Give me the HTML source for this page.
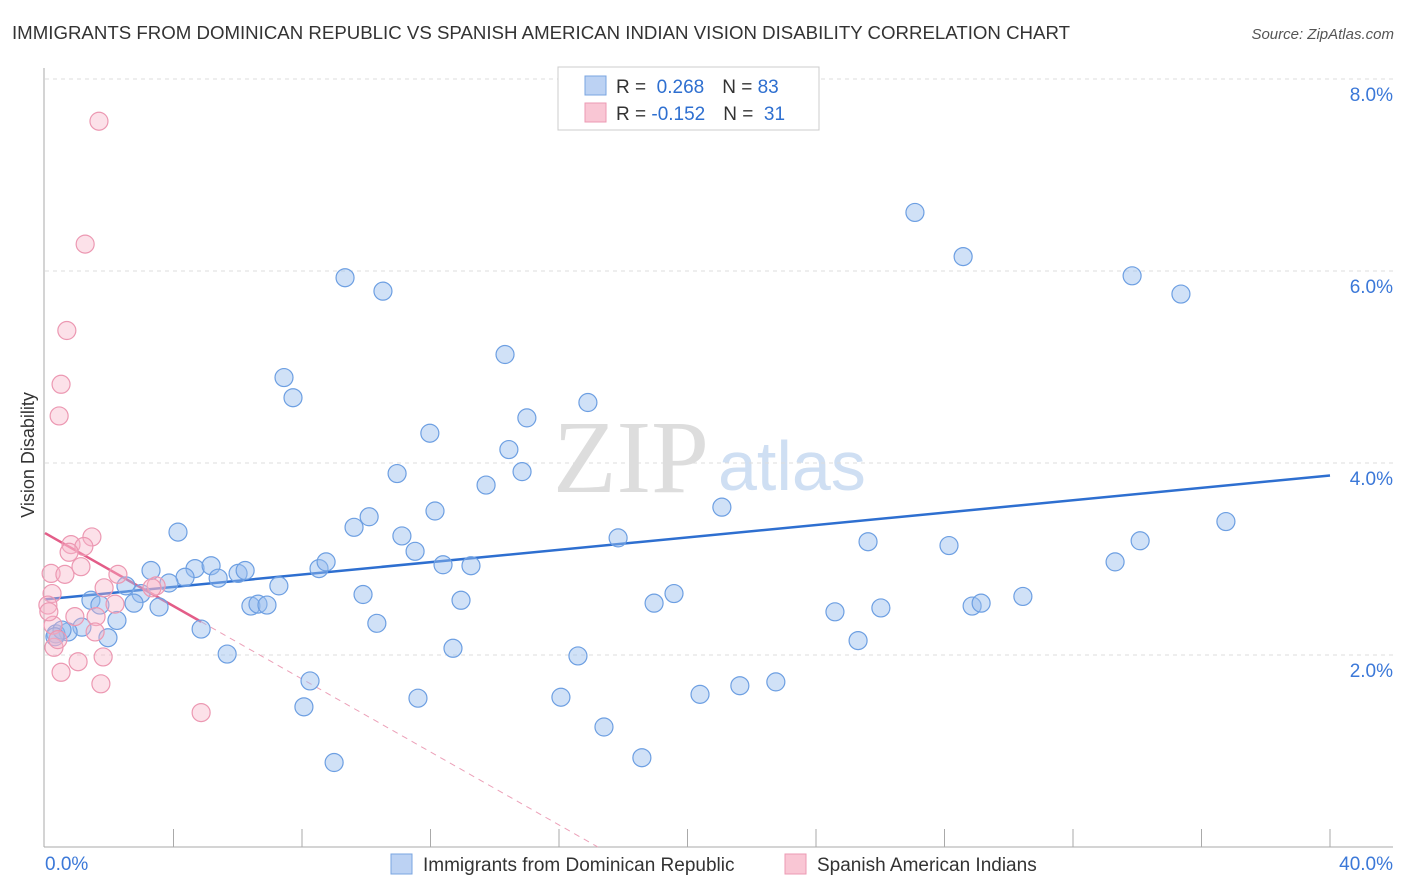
<!DOCTYPE html>
<html><head><meta charset="utf-8"><style>
body{margin:0;background:#fff;font-family:"Liberation Sans",sans-serif;}
#wrap{position:relative;width:1406px;height:892px;overflow:hidden;}
</style></head><body>
<div id="wrap">
<svg id="svg" width="1406" height="892" xmlns="http://www.w3.org/2000/svg" font-family="Liberation Sans, sans-serif">
<text x="12" y="39" font-size="18" fill="#333" textLength="1058" lengthAdjust="spacingAndGlyphs">IMMIGRANTS FROM DOMINICAN REPUBLIC VS SPANISH AMERICAN INDIAN VISION DISABILITY CORRELATION CHART</text>
<text x="1394" y="39" font-size="15" fill="#555" font-style="italic" text-anchor="end">Source: ZipAtlas.com</text>
<text x="553" y="492" font-size="104" font-family="Liberation Serif, serif" fill="#ddd">ZIP</text>
<text x="718" y="490" font-size="70" fill="#cfdff3">atlas</text>
<text transform="translate(34,455) rotate(-90)" font-size="18" fill="#333" text-anchor="middle">Vision Disability</text>
<g id="grid"></g><g id="axes"></g><g id="lines"></g><g id="pts"></g>
<g>
<rect x="558" y="67" width="261" height="63" fill="#fff" stroke="#ccc"/>
<rect x="585" y="76" width="21" height="19" fill="#bcd2f3" stroke="#7aa5e0"/>
<rect x="585" y="103" width="21" height="19" fill="#f9c6d4" stroke="#ec9ab3"/>
<text x="616" y="93" font-size="19" fill="#333">R = <tspan fill="#2e6fd0">&#160;0.268</tspan><tspan dx="18">N = </tspan><tspan fill="#2e6fd0">83</tspan></text>
<text x="616" y="120" font-size="19" fill="#333">R = <tspan fill="#2e6fd0">-0.152</tspan><tspan dx="18">N = </tspan><tspan fill="#2e6fd0">&#160;31</tspan></text>
</g>
<g>
<rect x="391" y="854" width="21" height="20" fill="#bcd2f3" stroke="#7aa5e0"/>
<text x="423" y="871" font-size="19" fill="#333">Immigrants from Dominican Republic</text>
<rect x="785" y="854" width="21" height="20" fill="#f9c6d4" stroke="#ec9ab3"/>
<text x="817" y="871" font-size="19" fill="#333">Spanish American Indians</text>
</g>
</svg>
</div>
<script>
const blueX=[27.08,28.58,33.84,35.36,9.34,10.52,14.32,7.44,7.72,15.00,16.90,11.98,14.44,14.85,10.96,13.73,4.14,10.09,9.62,12.14,11.11,11.52,12.39,13.26,8.53,8.75,21.07,17.84,25.62,28.14,34.09,36.76,33.31,3.30,4.67,5.17,6.01,6.23,4.36,3.86,5.39,7.28,2.52,2.99,1.43,1.71,2.77,3.55,6.41,6.63,6.91,9.90,12.95,19.58,18.96,24.59,26.02,28.86,29.14,30.44,2.24,1.15,0.72,0.34,0.53,1.96,4.86,10.33,25.31,12.70,5.67,16.59,8.25,8.06,11.61,16.06,20.39,21.63,22.75,17.40,18.58,9.00,0.31];
const blueY=[6.61,6.15,5.95,5.76,5.93,5.79,5.13,4.89,4.68,4.47,4.63,4.31,4.14,3.91,3.89,3.77,3.28,3.44,3.33,3.50,3.24,3.08,2.94,2.93,2.90,2.97,3.54,3.22,3.18,3.14,3.19,3.39,2.97,2.88,2.90,2.93,2.85,2.88,2.81,2.75,2.80,2.72,2.72,2.64,2.57,2.52,2.54,2.50,2.51,2.53,2.52,2.63,2.57,2.64,2.54,2.45,2.49,2.51,2.54,2.61,2.36,2.29,2.24,2.22,2.26,2.18,2.27,2.33,2.15,2.07,2.01,1.99,1.73,1.46,1.55,1.56,1.59,1.68,1.72,1.25,0.93,0.88,2.19];
const pinkX=[1.68,1.25,0.68,0.50,0.44,1.46,0.81,1.21,0.75,0.19,0.62,1.12,2.27,1.84,3.46,0.22,0.09,2.18,0.93,1.59,0.25,1.56,0.28,1.03,1.81,0.50,1.74,4.86,0.12,3.33,0.40];
const pinkY=[7.56,6.28,5.38,4.82,4.49,3.23,3.15,3.13,3.07,2.85,2.84,2.92,2.84,2.70,2.72,2.64,2.52,2.53,2.40,2.40,2.31,2.24,2.08,1.93,1.98,1.82,1.70,1.40,2.45,2.70,2.16];
const blueTrend=[2.58,3.87]; // y at x=0, x=40
const pinkTrend=[3.27,-0.19]; // intercept, slope
const yTicks=[2,4,6,8];
const yTickLabels=["2.0%","4.0%","6.0%","8.0%"];
const xTicks=[4,8,12,16,20,24,28,32,36,40];

const NS="http://www.w3.org/2000/svg";
const sx=v=>45+v*32.125, sy=v=>847-v*96;
function mk(tag,attrs,parent){const e=document.createElementNS(NS,tag);for(const k in attrs)e.setAttribute(k,attrs[k]);document.getElementById(parent).appendChild(e);return e;}
yTicks.forEach((t,i)=>{
 const l=mk('line',{x1:45,x2:1393,y1:sy(t),y2:sy(t),stroke:'#ddd','stroke-dasharray':'4,4'},'grid');
 
 
 const tx=mk('text',{x:1393,y:sy(t)+22,'font-size':19,fill:'#3b78d8','text-anchor':'end'},'grid');
 tx.textContent=yTickLabels[i];
 
 
});
let a=mk('line',{x1:44,x2:44,y1:68,y2:847,stroke:'#aaa'},'axes');


a=mk('line',{x1:44,x2:1393,y1:847,y2:847,stroke:'#aaa'},'axes');


xTicks.forEach(t=>{
 const l=mk('line',{x1:sx(t),x2:sx(t),y1:829,y2:847,stroke:'#aaa'},'axes');
 
 
});
let t0=mk('text',{x:45,y:870,'font-size':19,fill:'#3b78d8'},'axes');t0.textContent='0.0%';


let t1=mk('text',{x:1393,y:870,'font-size':19,fill:'#3b78d8','text-anchor':'end'},'axes');t1.textContent='40.0%';



blueX.forEach((x,i)=>{
 const c=mk('circle',{cx:sx(x),cy:sy(blueY[i]),r:9,fill:'rgba(150,188,238,0.45)',stroke:'#6d9fe2','stroke-width':1.2},'pts');
 
 
});
pinkX.forEach((x,i)=>{
 const c=mk('circle',{cx:sx(x),cy:sy(pinkY[i]),r:9,fill:'rgba(247,180,200,0.4)',stroke:'#ec98b2','stroke-width':1.2},'pts');
 
 
});
let bl=mk('line',{x1:sx(0),y1:sy(blueTrend[0]),x2:sx(40),y2:sy(blueTrend[1]),stroke:'#2e6fd0','stroke-width':2.5},'lines');


const pxEnd=Math.max(...pinkX), xZero=-pinkTrend[0]/pinkTrend[1];
let pl=mk('line',{x1:sx(0),y1:sy(pinkTrend[0]),x2:sx(pxEnd),y2:sy(pinkTrend[0]+pinkTrend[1]*pxEnd),stroke:'#e35d88','stroke-width':2.5},'lines');


let pd=mk('line',{x1:sx(pxEnd),y1:sy(pinkTrend[0]+pinkTrend[1]*pxEnd),x2:sx(xZero),y2:sy(0),stroke:'#eca0b8','stroke-width':1,'stroke-dasharray':'6,5'},'lines');


</script>
</body></html>
